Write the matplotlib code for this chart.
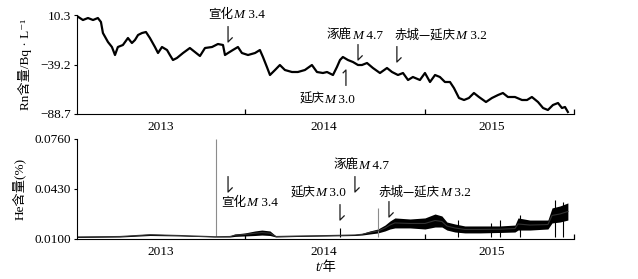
import matplotlib
matplotlib.use('Agg')
import matplotlib.pyplot as plt
import numpy as np
from matplotlib.offsetbox import TextArea, HPacker, AnnotationBbox
from matplotlib.transforms import Affine2D, ScaledTranslation

plt.rcParams['font.family'] = ['Liberation Serif', 'Noto Sans CJK SC', 'DejaVu Serif']
plt.rcParams['font.size'] = 9
CJK = ['Noto Sans CJK SC', 'DejaVu Sans']
SERIF = ['Liberation Serif', 'DejaVu Serif']

# 氡 (Rn) 含量, 时间为小数年
rn_t = [2013.072, 2013.100, 2013.128, 2013.156, 2013.183, 2013.200, 2013.211, 2013.239,
        2013.261, 2013.278, 2013.294, 2013.322, 2013.350, 2013.372, 2013.389, 2013.406,
        2013.428, 2013.450, 2013.472, 2013.500, 2013.517, 2013.539, 2013.567, 2013.583,
        2013.600, 2013.622, 2013.656, 2013.694, 2013.722, 2013.750, 2013.778, 2013.817,
        2013.850, 2013.878, 2013.889, 2013.906, 2013.933, 2013.961, 2013.983, 2014.017,
        2014.056, 2014.083, 2014.100, 2014.122, 2014.139, 2014.167, 2014.194, 2014.222,
        2014.261, 2014.294, 2014.333, 2014.372, 2014.400, 2014.433, 2014.456, 2014.489,
        2014.511, 2014.528, 2014.544, 2014.572, 2014.600, 2014.628, 2014.650, 2014.678,
        2014.711, 2014.750, 2014.789, 2014.817, 2014.850, 2014.878, 2014.906, 2014.933,
        2014.972, 2015.000, 2015.028, 2015.056, 2015.083, 2015.111, 2015.139, 2015.161,
        2015.189, 2015.217, 2015.244, 2015.272, 2015.300, 2015.339, 2015.372, 2015.406,
        2015.433, 2015.461, 2015.500, 2015.539, 2015.567, 2015.594, 2015.628, 2015.656,
        2015.683, 2015.711, 2015.739, 2015.761, 2015.778, 2015.794]
rn_v = [8.6, 5.3, 7.3, 5.3, 7.3, 3.3, -7.7, -16.7,
        -21.7, -29.7, -21.7, -19.7, -12.7, -17.7, -14.7, -9.7,
        -7.7, -6.7, -12.7, -21.7, -27.7, -21.7, -24.7, -29.7,
        -34.7, -32.7, -27.7, -22.7, -26.7, -30.7, -22.7, -21.7,
        -18.7, -19.7, -29.7, -27.7, -24.7, -21.7, -27.7, -29.7,
        -27.7, -24.7, -31.7, -41.7, -49.7, -44.7, -39.7, -44.7,
        -46.7, -46.7, -44.7, -39.7, -46.7, -47.7, -46.7, -49.7,
        -41.7, -34.7, -31.7, -34.7, -36.7, -39.7, -39.7, -37.7,
        -42.7, -47.7, -42.7, -46.7, -49.7, -47.7, -54.7, -51.7,
        -54.7, -47.7, -56.7, -49.7, -51.7, -56.7, -56.7, -62.7,
        -72.7, -74.7, -72.7, -67.7, -71.7, -76.7, -72.7, -69.7,
        -67.7, -71.7, -71.7, -74.7, -74.7, -71.7, -76.7, -82.7,
        -84.7, -79.7, -77.7, -82.7, -81.7, -86.7]

# 氦 (He) 含量: 波动带的下限和上限
he_t = [2013.067, 2013.306, 2013.472, 2013.639, 2013.833, 2013.917, 2013.944, 2014.000,
        2014.056, 2014.094, 2014.139, 2014.172, 2014.306, 2014.472, 2014.611, 2014.650,
        2014.694, 2014.739, 2014.778, 2014.806, 2014.833, 2014.917, 2015.000, 2015.056,
        2015.094, 2015.122, 2015.167, 2015.222, 2015.306, 2015.417, 2015.500, 2015.517,
        2015.583, 2015.683, 2015.706, 2015.750, 2015.794]
he_lo = [0.0110, 0.0113, 0.0123, 0.0120, 0.0113, 0.0113, 0.0117, 0.0120,
         0.0123, 0.0126, 0.0123, 0.0113, 0.0117, 0.0120, 0.0123, 0.0126,
         0.0133, 0.0140, 0.0153, 0.0166, 0.0173, 0.0173, 0.0166, 0.0179,
         0.0179, 0.0159, 0.0146, 0.0140, 0.0140, 0.0143, 0.0146, 0.0159,
         0.0159, 0.0166, 0.0206, 0.0212, 0.0225]
he_hi = [0.0117, 0.0120, 0.0133, 0.0126, 0.0117, 0.0120, 0.0133, 0.0140,
         0.0153, 0.0159, 0.0153, 0.0120, 0.0123, 0.0126, 0.0130, 0.0136,
         0.0153, 0.0166, 0.0192, 0.0219, 0.0239, 0.0232, 0.0239, 0.0265,
         0.0252, 0.0212, 0.0199, 0.0186, 0.0186, 0.0186, 0.0192, 0.0239,
         0.0225, 0.0225, 0.0305, 0.0318, 0.0338]
# 单点突跳
spike_t = [2013.839, 2014.528, 2014.739, 2015.183, 2015.367, 2015.419, 2015.528, 2015.722, 2015.767]
spike_v = [0.0760, 0.0173, 0.0305, 0.0225, 0.0205, 0.0225, 0.0258, 0.0357, 0.0345]
spike_gray = [True, False, True, False, False, False, False, False, False]

year_ticks = [2014, 2015, 2015.828]
year_label_pos = [2013.53, 2014.44, 2015.37]
year_labels = ['2013', '2014', '2015']
x_range = (2013.067, 2015.828)

# 地震: 名称, 震级, 箭头位置(x, y), 方向, 文字中心(x, y)
quakes_rn = [('宣化', '3.4', (2013.906, -16.7), 'down', (2013.953, 11.3)),
             ('涿鹿', '4.7', (2014.628, -34.7), 'down', (2014.611, -9.7)),
             ('赤城—延庆', '3.2', (2014.844, -36.7), 'down', (2015.086, -9.7)),
             ('延庆', '3.0', (2014.561, -44.7), 'up', (2014.458, -73.7))]
quakes_he = [('宣化', '3.4', (2013.906, 0.0410), 'down', (2014.025, 0.0344)),
             ('延庆', '3.0', (2014.528, 0.0225), 'down', (2014.408, 0.0404)),
             ('涿鹿', '4.7', (2014.611, 0.0410), 'down', (2014.647, 0.0588)),
             ('赤城—延庆', '3.2', (2014.800, 0.0245), 'down', (2015.000, 0.0410))]

fig = plt.figure(figsize=(6.38, 2.79), dpi=100)
ax1 = fig.add_axes([0.1207, 0.5914, 0.779, 0.3548])
ax2 = fig.add_axes([0.1207, 0.1434, 0.779, 0.3584])


def label(ax, name, mag, xy):
    parts = [TextArea(name, textprops=dict(family=CJK, size=9)),
             TextArea('M', textprops=dict(family=SERIF, style='italic', size=9.5)),
             TextArea(' ' + mag, textprops=dict(family=SERIF, size=9.5))]
    box = HPacker(children=parts, align='baseline', pad=0, sep=0)
    ab = AnnotationBbox(box, xy, xycoords='data', frameon=False,
                        box_alignment=(0.5, 0.5), pad=0, annotation_clip=False)
    ax.add_artist(ab)


def arrow(ax, xy, direction):
    tr = Affine2D().scale(fig.dpi / 72.) + ScaledTranslation(xy[0], xy[1], ax.transData)
    if direction == 'down':
        px, py = [0, 0, 3], [11, 0, 3]
    else:
        px, py = [-2, 0, 0], [-2, 0, -11]
    ax.plot(px, py, color='0.1', lw=0.9, transform=tr, clip_on=False)


def style(ax, yticks, ylabels):
    for s in ['top', 'right']:
        ax.spines[s].set_visible(False)
    ax.set_xlim(*x_range)
    ax.set_xticks(year_ticks)
    ax.set_xticklabels([])
    ax.set_xticks(year_label_pos, year_labels, minor=True)
    ax.tick_params(axis='x', which='major', direction='in', length=3.5, width=0.9)
    ax.tick_params(axis='x', which='minor', length=0, pad=5, labelsize=9.5)
    ax.set_yticks(yticks, ylabels)
    ax.tick_params(axis='y', direction='out', length=2.5, width=0.8, labelsize=9.5, pad=2)
    ax.set_ylim(yticks[-1], yticks[0])


# 上图: 氡
ax1.plot(rn_t, rn_v, color='k', lw=1.6)
style(ax1, [10.3, -39.2, -88.7], ['10.3', '−39.2', '−88.7'])
ax1.set_ylabel('Rn含量/Bq · L⁻¹', fontsize=9.5, labelpad=6)
for name, mag, tip, d, txt in quakes_rn:
    arrow(ax1, tip, d)
    label(ax1, name, mag, txt)

# 下图: 氦
he_mid = (np.array(he_lo) + np.array(he_hi)) / 2
for t, v, g in zip(spike_t, spike_v, spike_gray):
    ax2.vlines(t, 0.0110, v, color='0.55' if g else 'k', lw=0.8)
ax2.fill_between(he_t, he_lo, he_hi, color='k', lw=0)
ax2.plot(he_t, he_mid, color='0.2', lw=0.8)
style(ax2, [0.0760, 0.0430, 0.0100], ['0.0760', '0.0430', '0.0100'])
ax2.set_ylabel('He含量(%)', fontsize=9.5, labelpad=6)
for name, mag, tip, d, txt in quakes_he:
    arrow(ax2, tip, d)
    label(ax2, name, mag, txt)

# 横轴标题 t/年
xl = HPacker(children=[TextArea('t', textprops=dict(family=SERIF, style='italic', size=10)),
                       TextArea('/年', textprops=dict(family=['Liberation Serif', 'Noto Sans CJK SC'], size=9.5))],
             align='baseline', pad=0, sep=0)
fig.add_artist(AnnotationBbox(xl, (0.510, 0.04), xycoords='figure fraction', frameon=False,
                              box_alignment=(0.5, 0.5), pad=0))

fig.savefig('out.png', dpi=100)
